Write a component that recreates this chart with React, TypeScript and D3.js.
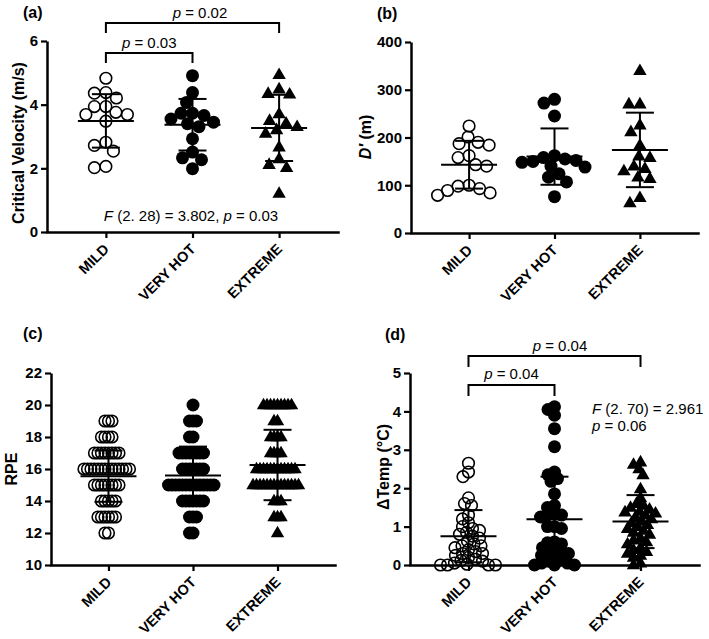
import { useEffect, useRef } from "react";
import * as d3 from "d3";

const categories = ["MILD", "VERY HOT", "EXTREME"];

// (a) critical velocity, m/s
const cvMild = [4.83, 4.36, 4.38, 4.21, 3.94, 3.76, 3.94, 3.69, 3.69, 3.48, 2.82, 2.72, 2.54, 2.02, 2.06];
const cvVeryHot = [4.91, 4.38, 4.07, 3.73, 3.73, 3.66, 3.55, 3.45, 3.4, 3.31, 2.93, 2.51, 2.33, 2.27, 1.99];
const cvExtreme = [4.94, 4.49, 4.33, 4.35, 3.71, 3.5, 3.31, 3.42, 3.1, 3.21, 2.67, 2.3, 2.12, 2.02, 1.21];
const cvMean = [3.49, 3.37, 3.27];
const cvSd = [0.84, 0.81, 1.04];

// (b) D', m
const dMild = [224, 201, 190, 187, 184, 162, 158, 143, 140, 100, 98, 93, 89, 84, 79];
const dVeryHot = [280, 272, 245, 162, 158, 155, 152, 150, 148, 140, 138, 124, 117, 107, 76];
const dExtreme = [340, 270, 270, 226, 212, 184, 158, 161, 140, 135, 130, 117, 114, 63, 74];
const dMean = [143, 160, 174];
const dSd = [50, 59, 78];

// (c) RPE, number of ratings at each scale value
const rpeLevels = [12, 13, 14, 15, 16, 17, 18, 19, 20];
const rpeMildCounts = [2, 6, 5, 8, 14, 8, 4, 3, 0];
const rpeVeryHotCounts = [2, 3, 7, 14, 7, 8, 2, 3, 1];
const rpeExtremeCounts = [1, 3, 3, 14, 12, 4, 4, 2, 9];
const rpeMean = [15.55, 15.6, 16.25];
const rpeSd = [1.6, 1.8, 2.2];

// (d) delta temp, deg C
const tMild = [2.65, 2.42, 2.3, 1.75, 1.6, 1.55, 1.3, 1.2, 1.1, 1.0, 0.95, 0.9, 0.85, 0.8, 0.75, 0.7, 0.62, 0.55, 0.5, 0.5, 0.45, 0.4, 0.35, 0.3, 0.3, 0.25, 0.2, 0.15, 0.12, 0.1, 0.05, 0.02, 0, 0, 0, 0];
const tVeryHot = [4.12, 4.05, 3.9, 3.55, 3.08, 2.42, 2.35, 2.25, 2.18, 1.85, 1.55, 1.5, 1.35, 1.3, 1.3, 1.25, 1.0, 1.0, 0.95, 0.6, 0.58, 0.55, 0.45, 0.4, 0.35, 0.3, 0.3, 0.25, 0.2, 0.15, 0.1, 0.05, 0.05, 0, 0, 0];
const tExtreme = [2.68, 2.62, 2.5, 2.35, 1.98, 1.75, 1.6, 1.55, 1.5, 1.45, 1.4, 1.38, 1.35, 1.3, 1.25, 1.2, 1.15, 1.1, 1.05, 1.0, 0.95, 0.9, 0.85, 0.8, 0.7, 0.65, 0.6, 0.55, 0.45, 0.4, 0.35, 0.3, 0.25, 0.2, 0.05, 0];
const tMean = [0.75, 1.19, 1.13];
const tSd = [0.68, 1.11, 0.69];

const expand = (counts: number[]) =>
  rpeLevels.flatMap((v, i) => d3.range(counts[i]).map(() => v));

const FONT = "'Liberation Sans', Arial, Helvetica, sans-serif";
const markers = ["open", "filled", "triangle"];

const panels: any[] = [
  {
    label: "(a)", x0: 47, x1: 338, yTop: 41, yBottom: 232, domain: [0, 6], ticks: [0, 2, 4, 6],
    titleX: 18, titleY: 143, title: [{ t: "Critical Velocity (m/s)" }],
    labelX: 23, labelY: 18,
    groups: [cvMild, cvVeryHot, cvExtreme], mean: cvMean, sd: cvSd, minDist: 11.5,
  },
  {
    label: "(b)", x0: 411, x1: 698, yTop: 42, yBottom: 233, domain: [0, 400], ticks: [0, 100, 200, 300, 400],
    titleX: 365, titleY: 137, title: [{ t: "D\u2032", italic: true }, { t: " (m)" }],
    labelX: 377, labelY: 19,
    groups: [dMild, dVeryHot, dExtreme], mean: dMean, sd: dSd, minDist: 11,
  },
  {
    label: "(c)", x0: 51, x1: 335, yTop: 373, yBottom: 565, domain: [10, 22], ticks: [10, 12, 14, 16, 18, 20, 22],
    titleX: 11, titleY: 469, title: [{ t: "RPE" }],
    labelX: 23, labelY: 339,
    groups: [expand(rpeMildCounts), expand(rpeVeryHotCounts), expand(rpeExtremeCounts)], mean: rpeMean, sd: rpeSd, minDist: 3.5,
  },
  {
    label: "(d)", x0: 410, x1: 699, yTop: 373, yBottom: 565, domain: [0, 5], ticks: [0, 1, 2, 3, 4, 5],
    titleX: 383, titleY: 467, title: [{ t: "\u0394Temp (\u00B0C)" }],
    labelX: 385, labelY: 340,
    groups: [tMild, tVeryHot, tExtreme], mean: tMean, sd: tSd, minDist: 7,
  },
];

// simple column scatter: each point goes to the nearest free spot from the centre
const swarm = (values: number[], cx: number, y: (v: number) => number, minDist: number) => {
  const sorted = [...values].sort((a, b) => b - a);
  const placed: { x: number; y: number }[] = [];
  sorted.forEach((v) => {
    const py = y(v);
    for (let k = 0; k < 400; k++) {
      const off = (k % 2 === 0 ? 1 : -1) * Math.ceil(k / 2) * 0.5;
      const px = cx + off;
      const hit = placed.some((p) => (p.x - px) ** 2 + (p.y - py) ** 2 < minDist * minDist - 0.01);
      if (!hit) {
        placed.push({ x: px, y: py });
        break;
      }
    }
  });
  return placed;
};

const App = () => {
  const svgRef = useRef<SVGSVGElement>(null);

  useEffect(() => {
    const svg = d3.select(svgRef.current);
    svg.selectAll("*").remove();
    svg.append("rect").attr("width", 709).attr("height", 639).attr("fill", "white");

    panels.forEach((p) => {
      const g = svg.append("g");
      const x = d3.scalePoint<string>().domain(categories).range([p.x0, p.x1]).padding(0.68);
      const y = d3.scaleLinear().domain(p.domain).range([p.yBottom, p.yTop]);

      // Y axis
      const ya = g
        .append("g")
        .attr("transform", `translate(${p.x0},0)`)
        .call(
          d3.axisLeft(y).tickValues(p.ticks).tickFormat(d3.format("d")).tickSize(6).tickSizeOuter(0).tickPadding(3)
        );
      ya.select(".domain").attr("stroke-width", 2.5);
      ya.selectAll(".tick line").attr("stroke-width", 2.2);
      ya.selectAll("text")
        .attr("font-family", FONT)
        .attr("font-weight", "bold")
        .attr("font-size", 15)
        .attr("fill", "black");

      // X axis
      const xa = g
        .append("g")
        .attr("transform", `translate(0,${p.yBottom})`)
        .call(d3.axisBottom(x).tickSize(6).tickSizeOuter(0).tickFormat(() => ""));
      xa.select(".domain").attr("stroke-width", 2.5).attr("stroke-linecap", "square");
      xa.selectAll(".tick line").attr("stroke-width", 2.2);

      categories.forEach((c) => {
        g.append("text")
          .attr("transform", `translate(${(x(c) as number) + 4},${p.yBottom + 18}) rotate(-45)`)
          .attr("text-anchor", "end")
          .attr("font-family", FONT)
          .attr("font-weight", "bold")
          .attr("font-size", 14.5)
          .text(c);
      });

      // Axis title
      const tt = g
        .append("text")
        .attr("transform", `translate(${p.titleX},${p.titleY}) rotate(-90)`)
        .attr("text-anchor", "middle")
        .attr("dy", "0.35em")
        .attr("font-family", FONT)
        .attr("font-weight", "bold")
        .attr("font-size", 16);
      p.title.forEach((s: any) => {
        tt.append("tspan").attr("font-style", s.italic ? "italic" : "normal").text(s.t);
      });

      // Panel label
      g.append("text")
        .attr("x", p.labelX)
        .attr("y", p.labelY)
        .attr("font-family", FONT)
        .attr("font-weight", "bold")
        .attr("font-size", 16)
        .text(p.label);

      // Points
      p.groups.forEach((vals: number[], i: number) => {
        const cx = x(categories[i]) as number;
        const pts = swarm(vals, cx, y, p.minDist);
        const kind = markers[i];
        if (kind === "triangle") {
          const tri = d3.symbol().type(d3.symbolTriangle).size(78);
          g.append("g")
            .selectAll("path")
            .data(pts)
            .enter()
            .append("path")
            .attr("transform", (d) => `translate(${d.x},${d.y + 0.5})`)
            .attr("d", tri() as string)
            .attr("fill", "black");
        } else {
          g.append("g")
            .selectAll("circle")
            .data(pts)
            .enter()
            .append("circle")
            .attr("cx", (d) => d.x)
            .attr("cy", (d) => d.y)
            .attr("r", kind === "open" ? 5.8 : 6.5)
            .attr("fill", kind === "open" ? "none" : "black")
            .attr("stroke", "black")
            .attr("stroke-width", kind === "open" ? 1.6 : 0);
        }

        // Mean and SD
        const m = p.mean[i];
        const s = p.sd[i];
        const eb = g.append("g").attr("stroke", "black").attr("stroke-width", 2);
        eb.append("line").attr("x1", cx).attr("x2", cx).attr("y1", y(Math.max(p.domain[0], m - s))).attr("y2", y(m + s));
        eb.append("line").attr("x1", cx - 28).attr("x2", cx + 28).attr("y1", y(m)).attr("y2", y(m));
        [m - s, m + s].forEach((v) => {
          eb.append("line").attr("x1", cx - 14).attr("x2", cx + 14).attr("y1", y(v)).attr("y2", y(v));
        });
      });

      p.x = x;
    });

    // significance brackets
    const bracket = (x1: number, x2: number, top: number, bottom: number) => {
      svg.append("path")
        .attr("d", `M${x1},${bottom}V${top}H${x2}V${bottom}`)
        .attr("fill", "none")
        .attr("stroke", "black")
        .attr("stroke-width", 2);
    };
    const note = (xp: number, yp: number, parts: { t: string; italic?: boolean }[], anchor = "middle") => {
      const t = svg.append("text")
        .attr("x", xp)
        .attr("y", yp)
        .attr("text-anchor", anchor)
        .attr("font-family", FONT)
        .attr("font-size", 15);
      parts.forEach((s) => t.append("tspan").attr("font-style", s.italic ? "italic" : "normal").text(s.t));
    };

    const xa = panels[0].x;
    bracket(xa("MILD"), xa("EXTREME"), 23, 33);
    bracket(xa("MILD"), xa("VERY HOT"), 53, 63);
    note(200, 18, [{ t: "p", italic: true }, { t: " = 0.02" }]);
    note((xa("MILD") + xa("VERY HOT")) / 2, 48, [{ t: "p", italic: true }, { t: " = 0.03" }]);
    note(191, 221, [
      { t: "F", italic: true }, { t: " (2. 28) = 3.802, " }, { t: "p", italic: true }, { t: " = 0.03" },
    ]);

    const xd = panels[3].x;
    bracket(xd("MILD"), xd("EXTREME"), 356, 367);
    bracket(xd("MILD"), xd("VERY HOT"), 385, 396);
    note(560, 351, [{ t: "p", italic: true }, { t: " = 0.04" }]);
    note((xd("MILD") + xd("VERY HOT")) / 2, 379, [{ t: "p", italic: true }, { t: " = 0.04" }]);
    note(592, 414, [{ t: "F", italic: true }, { t: " (2. 70) = 2.961" }], "start");
    note(592, 431, [{ t: "p", italic: true }, { t: " = 0.06" }], "start");
  }, []);

  return (
    <svg
      ref={svgRef}
      width={709}
      height={639}
      viewBox="0 0 709 639"
      style={{ position: "absolute", left: 0, top: 0 }}
    ></svg>
  );
};

export default App;
